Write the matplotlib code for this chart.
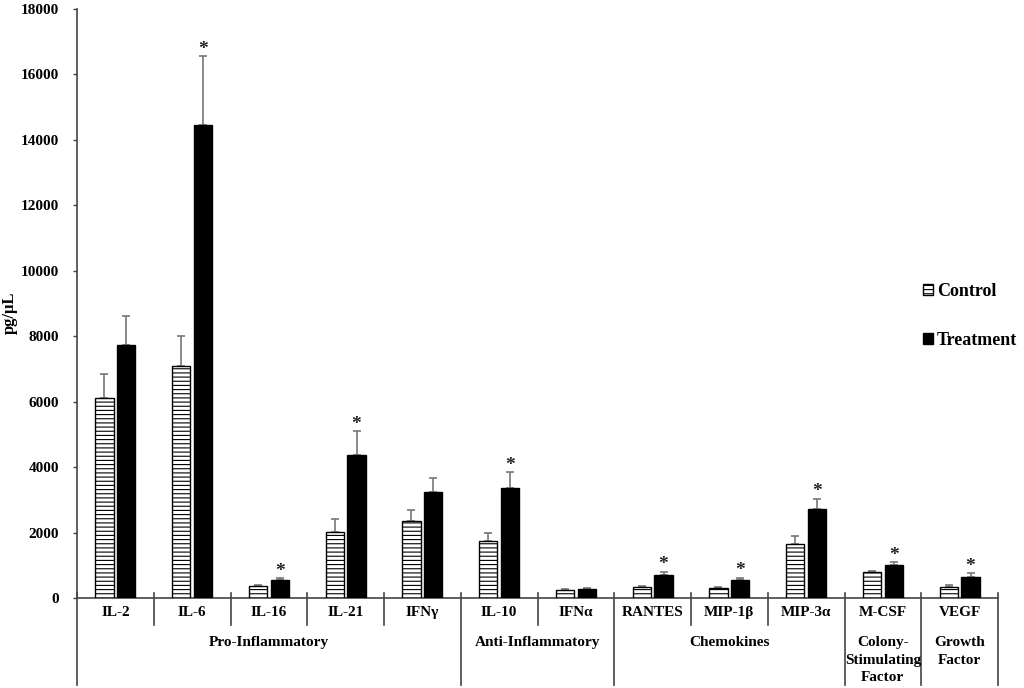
import matplotlib
matplotlib.use("Agg")
import matplotlib.pyplot as plt
import numpy as np

categories = ["IL-2", "IL-6", "IL-16", "IL-21", "IFNγ", "IL-10", "IFNα",
              "RANTES", "MIP-1β", "MIP-3α", "M-CSF", "VEGF"]
control = [6100, 7100, 355, 2010, 2340, 1730, 255, 330, 300, 1650, 800, 350]
control_err = [750, 900, 30, 390, 360, 255, 30, 40, 35, 230, 20, 40]
treatment = [7720, 14460, 550, 4360, 3230, 3350, 275, 710, 550, 2720, 1010, 650]
treatment_err = [900, 2090, 50, 730, 450, 490, 25, 90, 70, 310, 80, 100]
significant = [False, True, True, True, False, True, False, True, True, True, True, True]

# groups: (label, first index, last index)
groups = [("Pro-Inflammatory", 0, 4), ("Anti-Inflammatory", 5, 6),
          ("Chemokines", 7, 9), ("Colony-\nStimulating\nFactor", 10, 10),
          ("Growth\nFactor", 11, 11)]
yticks = [0, 2000, 4000, 6000, 8000, 10000, 12000, 14000, 16000, 18000]

plt.rcParams['font.family'] = ['Liberation Serif', 'DejaVu Serif']
plt.rcParams['font.weight'] = 'bold'
plt.rcParams['hatch.linewidth'] = 0.8
plt.rcParams['hatch.color'] = 'black'

fig = plt.figure(figsize=(10.24, 6.88), dpi=100)
ax = fig.add_axes([77/1024, 1-598/688, (998-77)/1024, 589/688])

x = np.arange(len(categories))
w = 0.24
off = 0.142
axis_col = '#444444'
err_col = '#777777'

bc = ax.bar(x - off, control, w, color='white', edgecolor='black', linewidth=1.0,
            hatch='----', label='Control', zorder=3)
bt = ax.bar(x + off, treatment, w, color='black', edgecolor='black', linewidth=1.0,
            label='Treatment', zorder=3)
ax.errorbar(x - off, control, yerr=[np.zeros(len(control)), control_err], fmt='none',
            ecolor=err_col, elinewidth=1.2, capsize=3, capthick=1.2, zorder=2)
ax.errorbar(x + off, treatment, yerr=[np.zeros(len(treatment)), treatment_err], fmt='none',
            ecolor=err_col, elinewidth=1.2, capsize=3, capthick=1.2, zorder=2)

for i, s in enumerate(significant):
    if s:
        ax.annotate('*', (x[i] + off, treatment[i] + treatment_err[i]),
                    xytext=(0, -1), textcoords='offset points', ha='center', va='bottom',
                    fontsize=14, fontweight='bold', color='#222222')

ax.set_xlim(-0.5, len(categories) - 0.5)
ax.set_ylim(0, 18000)
ax.set_yticks(yticks)
ax.set_yticklabels([str(t) for t in yticks], fontsize=11, fontweight='bold')
ax.tick_params(axis='y', direction='out', length=3, width=1, color=axis_col, pad=10)
ax.set_xticks([])
for sp in ['top', 'right']:
    ax.spines[sp].set_visible(False)
for sp in ['left', 'bottom']:
    ax.spines[sp].set_color(axis_col)
    ax.spines[sp].set_linewidth(1.2)
ax.set_ylabel('pg/μL', fontsize=12, fontweight='bold')
ax.yaxis.set_label_coords((18 - 77) / 921, (598 - 313) / 589)

tr = ax.get_xaxis_transform()
group_bounds = set()
for _, a, b in groups:
    group_bounds.add(a - 0.5)
    group_bounds.add(b + 0.5)
for i in range(len(categories) + 1):
    bx = i - 0.5
    if bx in group_bounds:
        ax.plot([bx, bx], [0.008, -0.148], transform=tr, color=axis_col, lw=1.2, clip_on=False)
    else:
        ax.plot([bx, bx], [0.008, -0.046], transform=tr, color=axis_col, lw=1.2, clip_on=False)

for i, c in enumerate(categories):
    ax.text(x[i], -0.024, c, transform=tr, ha='center', va='center',
            fontsize=11, fontweight='bold')

for lab, a, b in groups:
    ax.text((a + b) / 2, -0.065, lab, transform=tr, ha='center', va='top',
            fontsize=11, fontweight='bold', linespacing=1.45)

leg = fig.legend(handles=[bc, bt], loc='center left', bbox_to_anchor=(907/1024, 1-316/688),
                 frameon=False, handlelength=0.55, handleheight=0.55,
                 handletextpad=0.2, labelspacing=1.75, prop={'weight': 'bold', 'size': 13})

fig.savefig('out.png', dpi=100)
